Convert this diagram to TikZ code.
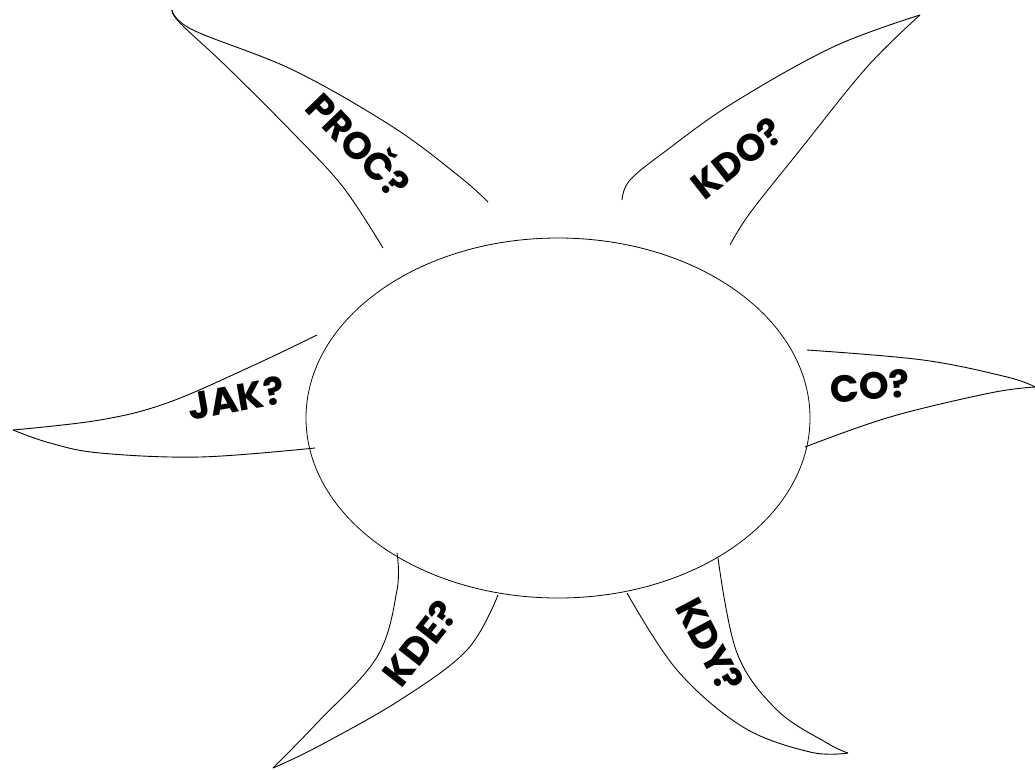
\documentclass[tikz,border=0pt]{standalone}
\usepackage{fontspec}
\setmainfont{Poppins}
\usepackage{tikz}
\usetikzlibrary{shapes.geometric}

\begin{document}
\begin{tikzpicture}[
  x=1pt, y=-1pt,
  petal/.style={line width=0.9pt, line join=round, black},
  core/.style={draw, ellipse, line width=0.8pt, minimum width=504pt, minimum height=360pt, inner sep=0pt},
  ask/.style={font=\fontsize{38}{38}\selectfont\bfseries, inner sep=1pt}
]
\useasboundingbox (0,0) rectangle (1035,769);
% the sun
\node[core] (sun) at (558,418) {};
% rays: each from its tip to the rim
\draw[petal] plot[smooth, tension=0.6] coordinates {(172,10) (193,30) (293,70) (393,127) (460,177) (488,202)};
\draw[petal] plot[smooth, tension=0.6] coordinates {(172,10) (180,23) (227,67) (293,133) (343,187) (383,248)};
\draw[petal] plot[smooth, tension=0.6] coordinates {(920,15) (833,47) (733,103) (667,150) (630,180) (622,200)};
\draw[petal] plot[smooth, tension=0.6] coordinates {(920,15) (867,67) (800,150) (750,213) (730,245)};
\draw[petal] plot[smooth, tension=0.6] coordinates {(13,430) (100,420) (167,403) (250,367) (317,335)};
\draw[petal] plot[smooth, tension=0.6] coordinates {(13,430) (50,443) (100,453) (200,457) (315,448)};
\draw[petal] plot[smooth, tension=0.6] coordinates {(807,350) (923,360) (1007,377) (1035,387)};
\draw[petal] plot[smooth, tension=0.6] coordinates {(805,447) (890,417) (990,393) (1035,387)};
\draw[petal] plot[smooth, tension=0.6] coordinates {(397,553) (397,590) (377,657) (317,723) (273,768)};
\draw[petal] plot[smooth, tension=0.6] coordinates {(498,595) (467,650) (400,700) (317,747) (273,768)};
\draw[petal] plot[smooth, tension=0.6] coordinates {(627,593) (677,670) (743,727) (810,752) (848,753)};
\draw[petal] plot[smooth, tension=0.6] coordinates {(718,558) (737,653) (777,710) (827,743) (848,753)};
% questions
\node[ask, rotate=-46] (proc) at (361,143) {PROČ?};
\node[ask, rotate=38] (kdo) at (737,158) {KDO?};
\node[ask, rotate=10] (jak) at (236,398) {JAK?};
\node[ask, rotate=5] (co) at (870,386) {CO?};
\node[ask, rotate=52] (kde) at (420,643) {KDE?};
\node[ask, rotate=-62] (kdy) at (710,645) {KDY?};
\end{tikzpicture}
\end{document}
